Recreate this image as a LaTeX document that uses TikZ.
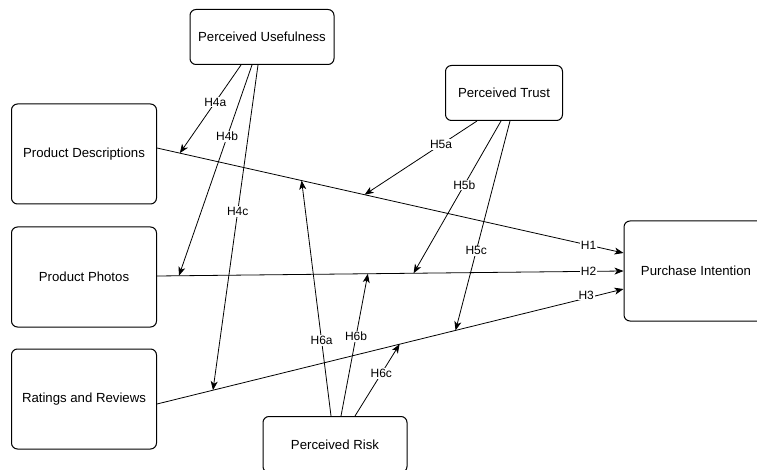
\documentclass[tikz,border=0pt]{standalone}
\usepackage{fontspec}
\setsansfont{Liberation Sans}
\usepackage{tikz}
\usetikzlibrary{arrows.meta}
\tikzset{
  construct/.style = {draw=black, rounded corners=6pt, line width=1pt,
    align=center, inner sep=0pt, font=\sffamily\fontsize{13.2}{15}\selectfont},
  c_big/.style = {construct, minimum width=145pt, minimum height=100pt},% predictor / outcome
  c_small/.style = {construct, minimum width=144pt, minimum height=55pt},% moderator
  hyp/.style = {fill=white, inner sep=1pt,
    font=\sffamily\fontsize{12}{14}\selectfont}% hypothesis label
}
\begin{document}
\begin{tikzpicture}[x=1pt,y=-1pt,->,>={Stealth[length=9pt,width=7pt,inset=2.5pt]},
  line width=0.8pt]
\useasboundingbox (0,0) rectangle (757,470);
\node [c_small] (pu) at (262,37) {Perceived Usefulness};
\node [c_small, minimum width=117pt] (pt) at (504,93) {Perceived Trust};
\node [c_big] (pd) at (84,154) {Product Descriptions};
\node [c_big] (pp) at (84,277) {Product Photos};
\node [c_big] (rr) at (84,399) {Ratings and Reviews};
\node [c_big, minimum width=144pt] (pi) at (696,271) {Purchase Intention};
\node [c_small, minimum height=56pt, anchor=north] (pr) at (335,416) {Perceived Risk};

% direct effects
\draw ([yshift=6pt]pd.east) -- node[hyp,pos=0.925] {H1}
  coordinate[pos=0.049] (d4a) coordinate[pos=0.31] (d6a) coordinate[pos=0.445] (d5a)
  ([yshift=18pt]pi.west);
\draw ([yshift=1pt]pp.east) -- node[hyp,pos=0.925] {H2}
  coordinate[pos=0.047] (d4b) coordinate[pos=0.452] (d6b) coordinate[pos=0.55] (d5b)
  (pi.west);
\draw ([yshift=-5pt]rr.east) -- node[hyp,pos=0.92,yshift=3pt] {H3}
  coordinate[pos=0.12] (d4c) coordinate[pos=0.52] (d6c) coordinate[pos=0.64] (d5c)
  ([yshift=-18pt]pi.west);

% moderating effects
\draw ([xshift=-21pt]pu.south) -- node[hyp,pos=0.42] {H4a} (d4a);
\draw ([xshift=-10pt]pu.south) -- node[hyp,pos=0.34] {H4b} (d4b);
\draw ([xshift=-4pt]pu.south) -- node[hyp,pos=0.45] {H4c} (d4c);
\draw ([xshift=-27pt]pt.south) -- node[hyp,pos=0.32] {H5a} (d5a);
\draw ([xshift=-3pt]pt.south) -- node[hyp,pos=0.42] {H5b} (d5b);
\draw ([xshift=6pt]pt.south) -- node[hyp,pos=0.62] {H5c} (d5c);
\draw ([xshift=-4pt]pr.north) -- node[hyp,pos=0.32] {H6a} (d6a);
\draw ([xshift=6pt]pr.north) -- node[hyp,pos=0.56] {H6b} (d6b);
\draw ([xshift=20pt]pr.north) -- node[hyp,pos=0.59] {H6c} (d6c);
\end{tikzpicture}
\end{document}
